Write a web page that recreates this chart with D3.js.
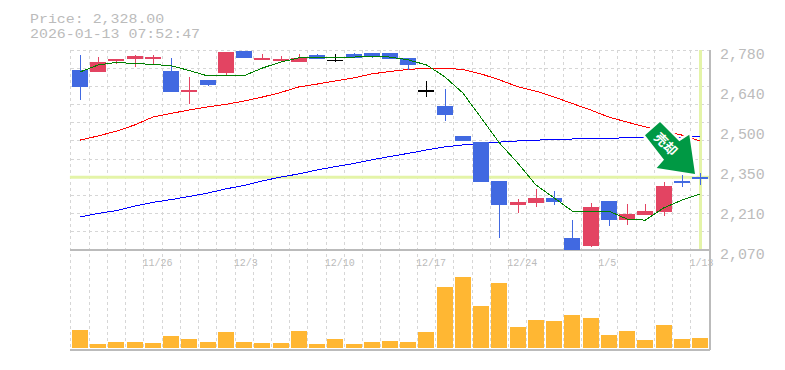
<!DOCTYPE html>
<html>
<head>
<meta charset="utf-8">
<script src="https://cdnjs.cloudflare.com/ajax/libs/d3/7.8.5/d3.min.js"></script>
<style>
html,body{margin:0;padding:0;background:#fff;}
text{font-family:"Liberation Mono",monospace;fill:#bbb;}
</style>
</head>
<body>
<svg id="chart" width="785" height="370"></svg>
<script>
//values
const dates = ["11/19","11/20","11/21","11/25","11/26","11/27","11/28","12/1","12/2","12/3","12/4","12/5","12/8","12/9","12/10","12/11","12/12","12/15","12/16","12/17","12/18","12/19","12/22","12/23","12/24","12/25","12/26","12/29","12/30","1/5","1/6","1/7","1/8","1/9","1/13"];
const dateLabels = ["11/26","12/3","12/10","12/17","12/24","1/5","1/13"];
const opens  = [2709,2702,2741,2748,2748,2705,2631,2674,2698,2776,2745,2745,2738,2762,2745,2766,2769,2769,2752,2638,2581,2475,2453,2315,2230,2237,2255,2113,2084,2244,2176,2194,2205,2315,2329];
const closes = [2649,2737,2748,2759,2755,2631,2638,2656,2773,2752,2752,2748,2752,2748,2745,2752,2755,2748,2727,2638,2549,2457,2311,2230,2240,2255,2240,2070,2223,2176,2198,2208,2297,2308,2328];
const highs  = [2762,2755,2748,2762,2762,2752,2684,2674,2773,2776,2766,2759,2766,2766,2766,2769,2769,2769,2752,2670,2642,2475,2453,2315,2251,2287,2279,2176,2237,2244,2233,2233,2311,2336,2343];
const lows   = [2602,2702,2730,2720,2730,2631,2588,2652,2688,2752,2752,2748,2738,2748,2738,2752,2752,2748,2709,2613,2528,2457,2311,2113,2201,2223,2230,2070,2081,2155,2159,2194,2191,2294,2301];
const ma5  = [2702,2727,2736,2732,2729,2724,2707,2688,2689,2689,2716,2737,2752,2752,2753,2755,2757,2755,2745,2727,2685,2627,2539,2450,2379,2301,2255,2208,2208,2208,2180,2176,2219,2247,2269];
const ma25 = [2460,2475,2492,2514,2542,2555,2567,2578,2587,2599,2613,2629,2649,2659,2670,2681,2695,2704,2711,2715,2715,2711,2695,2674,2650,2634,2613,2590,2567,2542,2524,2507,2492,2478,2457];
const ma75 = [2187,2200,2210,2226,2239,2249,2260,2272,2287,2299,2315,2329,2340,2354,2366,2377,2390,2402,2413,2425,2436,2443,2448,2453,2457,2460,2462,2464,2466,2467,2468,2468,2469,2471,2473];
const volumes = [18,4,6,6,5,12,9,6,16,6,5,5,17,4,9,4,6,7,6,16,61,71,42,65,21,28,27,33,30,13,17,8,23,9,10];
const priceTicks = [2780,2638,2496,2354,2212,2070];
const lastPrice = 2328;
const titleLines = ["Price: 2,328.00","2026-01-13 07:52:47"];
const badgeLabel = "売却";

const svg = d3.select("#chart");
const plotLeft = 70.9, plotRight = 709.1, plotTop = 50, priceBottom = 250, chartBottom = 350, volBase = 348;
const charWidth = 8.95;

const x = d3.scaleBand().domain(dates).range([plotLeft,plotRight]);
const y = d3.scaleLinear().domain([2070,2780]).range([priceBottom,plotTop]);
const yVol = d3.scaleLinear().domain([0,71]).range([volBase,277]);
const cx = d => x(d) + x.bandwidth()/2;

//grid
const grid = svg.append("g").attr("stroke","#d6d6d6").attr("stroke-dasharray","3,3").attr("shape-rendering","crispEdges");
grid.selectAll(".v").data(dates).enter().append("line").attr("class","v")
    .attr("x1",d=>x(d)).attr("x2",d=>x(d)).attr("y1",plotTop).attr("y2",chartBottom);
grid.selectAll(".h").data(d3.range(12)).enter().append("line").attr("class","h")
    .attr("x1",plotLeft).attr("x2",plotRight)
    .attr("y1",d=>plotTop+d*(priceBottom-plotTop)/11).attr("y2",d=>plotTop+d*(priceBottom-plotTop)/11);

//last price cross
svg.append("line").attr("x1",plotLeft-1).attr("x2",710).attr("y1",y(lastPrice)).attr("y2",y(lastPrice))
    .attr("stroke","#e4f4a8").attr("stroke-width",3);
svg.append("line").attr("x1",700.5).attr("x2",700.5).attr("y1",plotTop).attr("y2",249)
    .attr("stroke","#e4f4a8").attr("stroke-width",3);

//frame
const frame = svg.append("g").attr("stroke","#bbb").attr("stroke-width",1.5).attr("shape-rendering","crispEdges");
frame.append("line").attr("x1",70).attr("x2",710).attr("y1",priceBottom).attr("y2",priceBottom);
frame.append("line").attr("x1",70).attr("x2",710).attr("y1",chartBottom).attr("y2",chartBottom);
frame.append("line").attr("x1",710).attr("x2",710).attr("y1",plotTop).attr("y2",chartBottom);

//moving averages
const maLine = d3.line().x((d,i)=>cx(dates[i])).y(d=>y(d));
[[ma75,"#0000ff"],[ma25,"#ff0000"]].forEach(m=>{
    svg.append("path").attr("d",maLine(m[0])).attr("fill","none")
        .attr("stroke",m[1]).attr("stroke-width",1).attr("shape-rendering","crispEdges");
});

//candles
const candleColor = i => opens[i]==closes[i] ? "#000" : (closes[i]>opens[i] ? "#e34462" : "#4169e1");
const candles = svg.append("g").attr("shape-rendering","crispEdges").selectAll("g").data(dates).enter().append("g");
candles.append("line")
    .attr("x1",d=>Math.round(cx(d))+0.5).attr("x2",d=>Math.round(cx(d))+0.5)
    .attr("y1",(d,i)=>y(highs[i])).attr("y2",(d,i)=>y(lows[i]))
    .attr("stroke",(d,i)=>candleColor(i)).attr("stroke-width",1);
candles.append("rect")
    .attr("x",d=>Math.round(cx(d))-8).attr("width",16)
    .attr("y",(d,i)=>y(Math.max(opens[i],closes[i])))
    .attr("height",(d,i)=>Math.max(1.5,Math.abs(y(opens[i])-y(closes[i]))))
    .attr("fill",(d,i)=>candleColor(i));

svg.append("path").attr("d",maLine(ma5)).attr("fill","none").attr("stroke","#008000")
    .attr("stroke-width",1).attr("shape-rendering","crispEdges");

//volume
svg.append("g").selectAll("rect").data(dates).enter().append("rect")
    .attr("x",d=>Math.round(cx(d))-8).attr("width",16)
    .attr("y",(d,i)=>yVol(volumes[i])).attr("height",(d,i)=>volBase-yVol(volumes[i]))
    .attr("fill","#ffb733");

//price axis
const yAxis = d3.axisRight(y).tickValues(priceTicks).tickSize(0).tickPadding(0)
    .tickFormat(d=>d3.format(",")(Math.round(d/10)*10));
const yG = svg.append("g").attr("transform","translate(720,0)").call(yAxis);
yG.select(".domain").remove();
yG.selectAll("text").attr("dy",8).attr("font-size",14)
    .attr("textLength",charWidth*5).attr("lengthAdjust","spacingAndGlyphs");

//date axis
const xAxis = d3.axisBottom(x).tickValues(dateLabels).tickSize(0).tickPadding(0);
const xG = svg.append("g").attr("transform","translate(0,256)").call(xAxis);
xG.select(".domain").remove();
xG.selectAll("text").attr("text-anchor","start").attr("dx",-10.5).attr("dy",9.5)
    .attr("y",0).attr("font-size",10);
svg.selectAll(".tick text").style("fill","#bbb").style("font-family","'Liberation Mono',monospace");

//title
svg.append("g").selectAll("text").data(titleLines).enter().append("text")
    .attr("x",30).attr("y",(d,i)=>23+i*15).attr("font-size",13)
    .attr("textLength",d=>d.length*charWidth).attr("lengthAdjust","spacingAndGlyphs").text(d=>d);

//badge
const badge = svg.append("g");
badge.append("path").attr("d","M660,122L679.3,141.3L689.3,134.7L695,174L656.7,168L664,159.7L645,135.3Z")
    .attr("fill","#009944").attr("stroke","#fff").attr("stroke-width",5)
    .attr("stroke-linejoin","round").style("paint-order","stroke");
badge.append("text").attr("transform","translate(666,144) rotate(45)").attr("text-anchor","middle")
    .attr("y",5).attr("font-size",13).attr("font-weight","bold")
    .style("font-family","'Noto Sans CJK JP'").style("fill","#fff").text(badgeLabel);
</script>
</body>
</html>
